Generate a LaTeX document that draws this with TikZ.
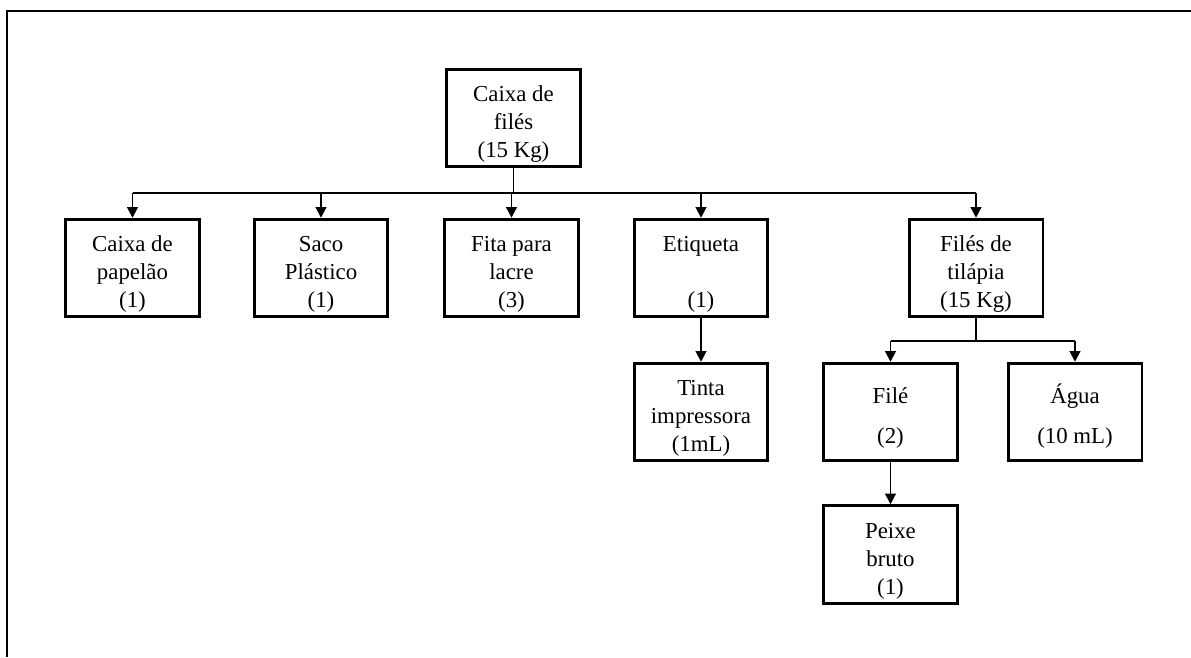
\documentclass[tikz,border=0pt]{standalone}
\usepackage{fontspec}
\setmainfont{Liberation Serif}
\usepackage{tikz}
\usetikzlibrary{arrows.meta,calc,positioning}

% pushes the text of a box a little down
\newcommand{\lowr}{\rule{0pt}{16pt}}

\tikzset{
  itembox/.style={draw, line width=1.7pt, minimum width=2.68cm, minimum height=1.95cm,
    align=center, inner sep=0pt, font=\fontsize{13}{16}\selectfont},
  link/.style={line width=1.1pt},
  arr/.style={link, -{Triangle[width=6pt,length=6pt]}},
}

\begin{document}
\begin{tikzpicture}[x=0.02cm, y=-0.02cm]
        \useasboundingbox (0,0) rectangle (1191,657);
        % Frame
        \draw[line width=1.3pt] (1191,11) -- (7,11) -- (7,657);
        % Product
        \node[itembox] (caixa) at (513.5,118) {\lowr Caixa de\\filés\\(15 Kg)};
        % Components
        \node[itembox] (papelao) at (132.5,268) {\lowr Caixa de\\papelão\\(1)};
        \node[itembox] (saco) at (321,268) {\lowr Saco\\Plástico\\(1)};
        \node[itembox] (fita) at (511.5,268) {\lowr Fita para\\lacre\\(3)};
        \node[itembox] (etiqueta) at (701,268) {\lowr Etiqueta\\[16pt](1)};
        \node[itembox] (tilapia) at (976,268) {\lowr Filés de\\tilápia\\(15 Kg)};
        \node[itembox] (tinta) at (701,412) {\lowr Tinta\\impressora\\(1mL)};
        \node[itembox] (file) at (890.5,412) {\lowr Filé\\[7pt](2)};
        \node[itembox] (agua) at (1075,412) {\lowr Água\\[7pt](10 mL)};
        \node[itembox] (peixe) at (890.5,554.5) {\lowr Peixe\\bruto\\(1)};
        % Connectors
        \coordinate (bus) at (513.5,193);
        \coordinate (bus2) at (976,341);
        \draw[link] (caixa.south) -- (caixa.south |- bus);
        \draw[link] (papelao.north |- bus) -- (tilapia.north |- bus);
        \foreach \n in {papelao,saco,fita,etiqueta,tilapia} {
            \draw[arr] (\n.north |- bus) -- (\n.north);
          }
        \draw[arr] (etiqueta) -- (tinta);
        \draw[link] (tilapia.south) -- (bus2);
        \draw[link] (file.north |- bus2) -- (agua.north |- bus2);
        \foreach \n in {file,agua} {
            \draw[arr] (\n.north |- bus2) -- (\n.north);
          }
        \draw[arr] (file) -- (peixe);
      \end{tikzpicture}
\end{document}
